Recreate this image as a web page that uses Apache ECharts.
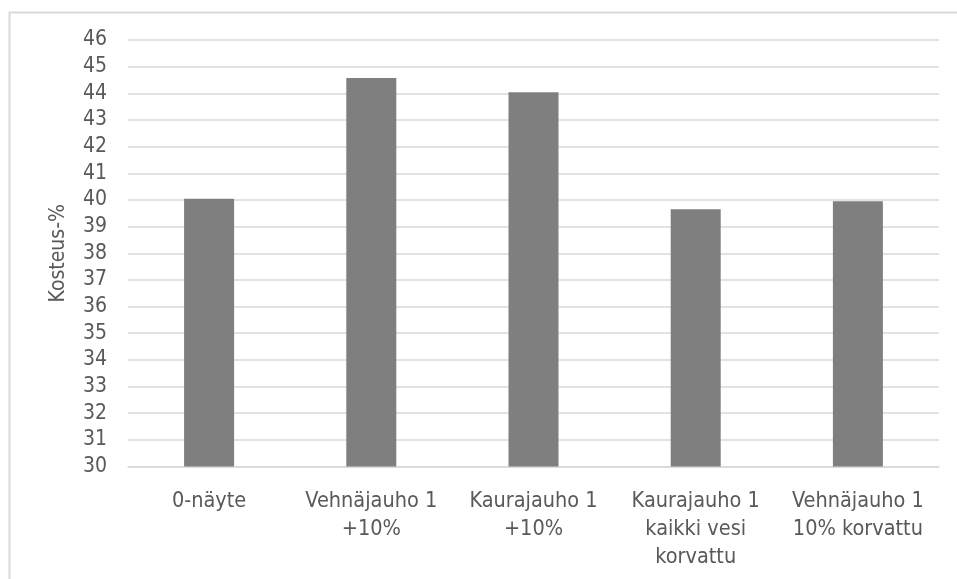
<!DOCTYPE html>
<html>
<head>
<meta charset="utf-8">
<script src="https://cdn.jsdelivr.net/npm/echarts@6/dist/echarts.min.js"></script>
<style>
html,body{margin:0;padding:0;background:#fff;}
#chart{width:957px;height:579px;}
</style>
</head>
<body>
<div id="chart"></div>
<script>
const categories = ['0-näyte', 'Vehnäjauho 1\n+10%', 'Kaurajauho 1\n+10%', 'Kaurajauho 1\nkaikki vesi\nkorvattu', 'Vehnäjauho 1\n10% korvattu'];
const values = [40.04, 44.57, 44.04, 39.65, 39.95];
const yMin = 30, yMax = 46, yStep = 1;
const yAxisTitle = 'Kosteus-%';

const FONT = '"Liberation Sans Narrow", "DejaVu Sans Condensed", "Liberation Sans", sans-serif';
const chart = echarts.init(document.getElementById('chart'), null, {renderer: 'canvas'});
chart.setOption({
  animation: false,
  backgroundColor: '#ffffff',
  graphic: [{
    type: 'rect', left: 7, top: 10, z: -1,
    shape: {x: 0, y: 0, width: 1000, height: 1000},
    style: {fill: 'none', stroke: '#d9d9d9', lineWidth: 2}
  }],
  grid: {left: 128, right: 18, top: 40, bottom: 112.5},
  xAxis: {
    type: 'category',
    data: categories,
    axisLine: {show: true, lineStyle: {color: '#d9d9d9', width: 1.5}},
    axisTick: {show: false},
    axisLabel: {color: '#595959', fontFamily: FONT, fontSize: 21.5, lineHeight: 28, margin: 21, interval: 0}
  },
  yAxis: {
    type: 'value',
    min: yMin, max: yMax, interval: yStep,
    name: yAxisTitle,
    nameLocation: 'middle',
    nameGap: 59,
    nameRotate: 90,
    nameTextStyle: {color: '#595959', fontFamily: FONT, fontSize: 21},
    axisLine: {show: false},
    axisTick: {show: false},
    axisLabel: {color: '#595959', fontFamily: FONT, fontSize: 21, margin: 21},
    splitLine: {lineStyle: {color: '#d9d9d9', width: 1.5}}
  },
  series: [{
    type: 'bar',
    data: values,
    barWidth: 50,
    itemStyle: {color: '#7f7f7f'}
  }]
});
</script>
</body>
</html>
